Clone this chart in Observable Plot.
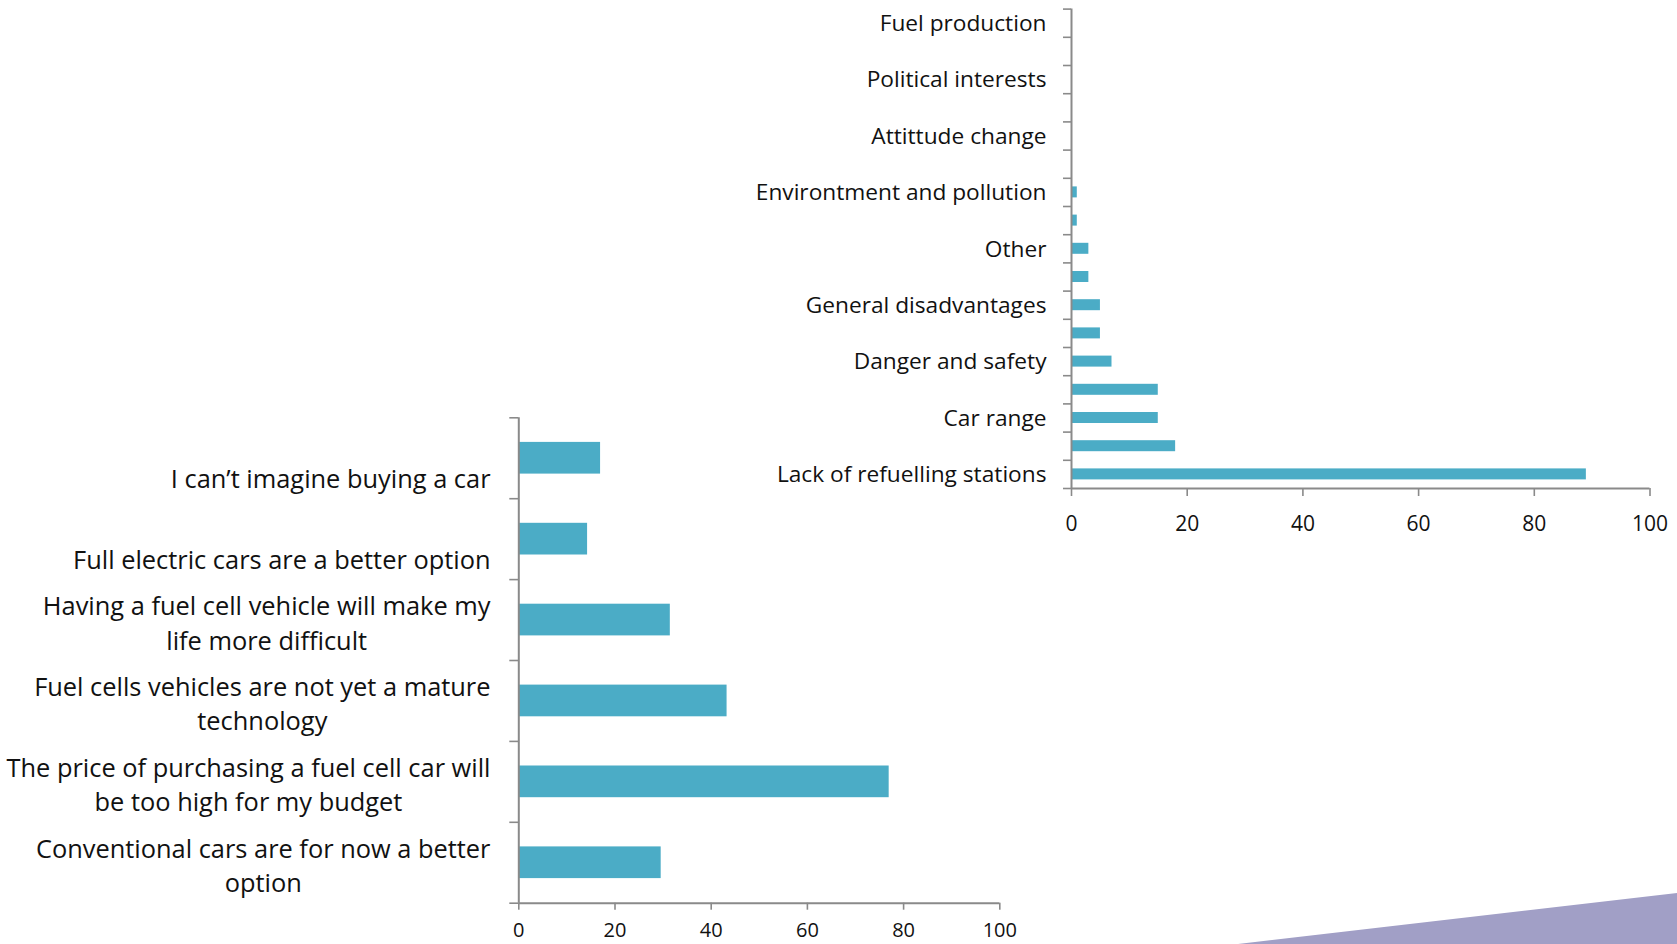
<!DOCTYPE html>
<html>
<head>
<meta charset="utf-8">
<script src="https://cdn.jsdelivr.net/npm/d3@7"></script>
<script src="https://cdn.jsdelivr.net/npm/@observablehq/plot@0.6"></script>
<style>
  html, body { margin: 0; padding: 0; background: #fff; }
  #page { position: relative; width: 1677px; height: 944px; overflow: hidden; font-family: "Open Sans", sans-serif; }
  #deco { position: absolute; left: 0; top: 0; width: 1677px; height: 944px; background: #a19fc6;
          clip-path: polygon(1238px 944px, 1677px 893px, 1677px 944px); }
  #left { position: absolute; left: 0; top: 400px; }
  #right { position: absolute; left: 700px; top: 0; }
</style>
</head>
<body>
<div id="page">
  <div id="deco"></div>
  <div id="left"></div>
  <div id="right"></div>
</div>
<script>
// ---- Data: right chart (top to bottom; Excel skipped every other category label) ----
const reasonLabels = [
  "Fuel production", "",
  "Political interests", "",
  "Attittude change", "",
  "Environtment and pollution", "",
  "Other", "",
  "General disadvantages", "",
  "Danger and safety", "",
  "Car range", "",
  "Lack of refuelling stations"
];
const reasonValues = [0, 0, 0, 0, 0, 0, 1, 1, 3, 3, 5, 5, 7, 15, 15, 18, 89];

// ---- Data: left chart (top to bottom) ----
const barrierLabels = [
  "I can’t imagine buying a car",
  "Full electric cars are a better option",
  "Having a fuel cell vehicle will make my\nlife more difficult",
  "Fuel cells vehicles are not yet a mature\ntechnology",
  "The price of purchasing a fuel cell car will\nbe too high for my budget",
  "Conventional cars are for now a better\noption"
];
const barrierValues = [17, 14.3, 31.5, 43.3, 77, 29.6];

const xTicks = [0, 20, 40, 60, 80, 100];

// ---- Styles ----
const FONT = '"Open Sans", sans-serif';
const BAR = "#4bacc6";
const AXIS = "#8a8a8a";
const INK = "#111";

// ---- Right chart ----
const n = reasonValues.length;
const right = Plot.plot({
  width: 977, height: 545,
  marginTop: 8.6, marginBottom: 57, marginLeft: 371, marginRight: 27.5,
  style: { fontFamily: FONT, background: "transparent", overflow: "visible", color: INK },
  x: { domain: [0, 100] },
  y: { domain: [0, n], reverse: true },
  marks: [
    Plot.rectX(reasonValues, { x: d => d, y: (d, i) => i, interval: 1, insetTop: 8.6, insetBottom: 8.6, fill: BAR }),
    Plot.ruleX([0], { stroke: AXIS, strokeWidth: 2 }),
    Plot.ruleY([n], { stroke: AXIS, strokeWidth: 2 }),
    Plot.axisY(d3.range(n + 1), { tickSize: 8, tickFormat: () => "", stroke: AXIS, strokeWidth: 1.6 }),
    Plot.axisX(xTicks, { tickSize: 8, tickPadding: 19.5, fontSize: 21, stroke: AXIS, strokeWidth: 1.6, fill: INK }),
    Plot.text(reasonLabels, { y: (d, i) => i + 0.5, text: d => d, frameAnchor: "left", textAnchor: "end",
      dx: -25, dy: 0.5, fontSize: 22.7, fill: INK })
  ]
});
document.getElementById("right").appendChild(right);

// ---- Left chart ----
const m = barrierValues.length;
const LFS = 25.4;
const ctx = document.createElement("canvas").getContext("2d");
ctx.font = `${LFS}px ${FONT}`;
const widest = s => Math.max(...s.split("\n").map(l => ctx.measureText(l).width));

const left = Plot.plot({
  width: 1010, height: 544,
  marginTop: 17.3, marginBottom: 41.3, marginLeft: 518.3, marginRight: 10.7,
  style: { fontFamily: FONT, background: "transparent", overflow: "visible", color: INK },
  x: { domain: [0, 100] },
  y: { domain: [0, m], reverse: true },
  marks: [
    Plot.rectX(barrierValues, { x: d => d, y: (d, i) => i, interval: 1, insetTop: 24.6, insetBottom: 24.6, fill: BAR }),
    Plot.ruleX([0], { stroke: AXIS, strokeWidth: 2 }),
    Plot.ruleY([m], { stroke: AXIS, strokeWidth: 2 }),
    Plot.axisY(d3.range(m + 1), { tickSize: 9, tickFormat: () => "", stroke: AXIS, strokeWidth: 1.6 }),
    Plot.axisX(xTicks, { tickSize: 7, tickPadding: 13, fontSize: 20, stroke: AXIS, strokeWidth: 1.6, fill: INK }),
    ...barrierLabels.map((label, i) => Plot.text([label], {
      y: () => i + 0.5, text: d => d, frameAnchor: "left", textAnchor: "middle",
      lineAnchor: "bottom", lineHeight: 1.35, dx: -(28.3 + widest(label) / 2), dy: 29.5,
      fontSize: LFS, fill: INK
    }))
  ]
});
document.getElementById("left").appendChild(left);
</script>
</body>
</html>
